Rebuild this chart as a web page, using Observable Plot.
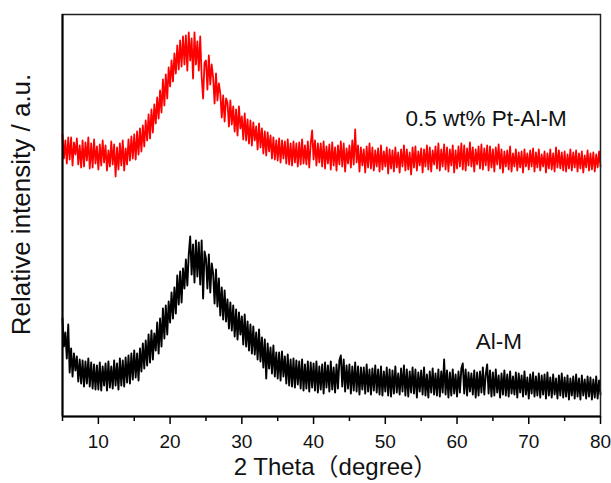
<!DOCTYPE html>
<html><head><meta charset="utf-8">
<script src="https://cdn.jsdelivr.net/npm/d3@7"></script>
<script src="https://cdn.jsdelivr.net/npm/@observablehq/plot@0.6"></script>
<style>body{margin:0;background:#fff}#chart{width:611px;height:483px}</style>
</head><body><div id="chart"></div>
<script>
// 2θ sampling grid of the diffractometer scan (5° to 80°, 0.2° step)
const thetaStart = 5, thetaStep = 0.2;

// Intensity (a.u., 0 = bottom of frame)
const ptAlM = [
282,258,276,253,279, 257,279,251,274,262, 278,252,271,249,276, 250,274,256,279,248, 273,249,277,253,270,
247,272,251,276,254, 271,246,266,250,275, 252,272,240,269,247, 273,251,276,246,268, 252,277,256,280,258,
282,257,285,262,288, 265,291,270,296,276, 302,278,307,284,312, 293,319,298,326,304, 337,311,342,318,349,
330,356,335,363,343, 371,347,376,350,380, 352,381,346,384,356, 378,338,384,352,375, 346,380,340,318,354,
356,327,361,332,352, 339,313,343,316,333, 323,299,321,295,318, 314,290,316,292,310, 285,307,281,310,288,
300,277,303,276,297, 273,296,271,294,276, 290,267,293,269,288, 263,285,261,284,265, 281,258,279,257,276,
256,278,254,276,258, 275,253,277,252,273, 251,275,254,273,250, 274,252,277,253,271, 252,275,249,273,286,
257,276,251,273,254, 273,250,275,248,270, 253,272,247,274,251, 269,246,271,252,275, 250,273,245,268,253,
271,249,276,252,287, 254,271,245,269,251, 267,244,270,249,273, 248,269,246,266,250, 268,245,271,247,265,
250,269,243,267,248, 266,245,269,249,264, 244,267,250,271,246, 267,247,264,242,269, 249,270,246,265,251,
268,244,267,250,271, 247,269,245,266,252, 270,248,273,246,267, 250,272,247,269,245, 267,251,271,244,266,
248,270,250,273,247, 271,246,268,251,274, 250,269,245,267,252, 270,248,272,247,268, 251,271,246,270,249,
267,245,269,252,272, 248,267,244,265,250, 266,247,270,245,263, 250,267,246,264,249, 265,244,267,250,263,
247,266,250,268,245, 264,249,267,246,262, 250,265,244,263,248, 267,247,263,245,269, 249,266,248,264,246,
265,245,262,248,267, 246,264,249,266,245, 263,248,265,244,261, 249,266,246,263,247, 264,245,262,249,265,
250
];
const alM = [
98,70,84,58,92, 44,68,40,63,46, 60,35,57,33,56, 30,55,33,58,30, 54,28,52,27,51,
27,54,26,50,31, 53,26,55,29,50, 28,56,31,53,27, 58,31,56,30,59, 34,61,33,63,37,
66,39,63,36,68, 45,73,48,76,51, 82,54,86,57,83, 66,94,63,98,70, 108,78,111,82,115,
94,124,98,129,103, 141,112,145,114,148, 128,157,131,162,180, 142,172,134,176,140, 174,132,176,118,165,
158,128,162,124,153, 143,113,147,110,138, 101,129,97,126,95, 117,88,114,86,111, 80,107,77,104,82,
100,72,102,70,95, 66,92,63,90,62, 84,57,87,55,79, 49,77,38,73,48, 69,43,71,40,64,
38,64,36,65,40, 60,33,62,31,57, 30,58,29,56,32, 55,28,57,26,52, 28,55,25,54,29,
53,26,55,24,50, 27,52,23,54,29, 51,25,55,27,49, 24,52,28,56,61, 30,57,25,51,28,
52,23,50,26,54, 25,50,22,49,27, 49,23,52,25,47, 22,48,26,51,24, 47,22,50,21,45,
25,49,21,47,20, 46,23,50,24,43, 22,48,25,51,21, 47,20,45,24,49, 23,47,19,44,25,
46,22,49,21,42, 19,45,24,48,22, 43,21,47,20,45, 24,57,22,46,19, 44,21,47,23,42,
20,45,24,48,53, 23,47,21,44,25, 43,22,46,19,44, 21,45,24,49,22, 42,52,23,46,20,
44,21,47,24,41, 19,43,22,46,21, 42,20,45,23,40, 22,44,19,43,24, 41,20,45,22,39,
18,42,23,44,20, 40,21,43,19,41, 22,42,18,44,21, 39,19,42,22,38, 18,41,21,43,19,
39,20,41,17,38, 21,40,18,42,20, 38,17,41,21,37, 18,40,20,39,17, 37,19,40,18,36,
22
];

const majorTicks = [10, 20, 30, 40, 50, 60, 70, 80];
const minorTicks = [5, 15, 25, 35, 45, 55, 65, 75];
const seriesNames = ["0.5 wt% Pt-Al-M", "Al-M"];
const seriesColors = ["#ff0000", "#000000"];
const labelTheta = [52.8, 62.6];
const labelIntensity = [298, 75];
const xTitle = "2 Theta（degree）";
const yTitle = "Relative intensity / a.u.";

const toRows = (arr) => arr.map((v, i) => ({theta: +(thetaStart + i * thetaStep).toFixed(1), intensity: v}));
const labels = seriesNames.map((t, i) => ({t, x: labelTheta[i], y: labelIntensity[i]}));

const chart = Plot.plot({
  width: 611, height: 483,
  marginLeft: 62, marginRight: 11, marginTop: 14, marginBottom: 67,
  x: {domain: [5, 80], axis: null},
  y: {domain: [0, 402], axis: null},
  style: {fontFamily: "'Liberation Sans', Arial, 'Noto Sans CJK SC', sans-serif", background: "#fff", color: "#111"},
  marks: [
    Plot.line(toRows(ptAlM), {x: "theta", y: "intensity", stroke: seriesColors[0], strokeWidth: 1.8}),
    Plot.line(toRows(alM), {x: "theta", y: "intensity", stroke: seriesColors[1], strokeWidth: 1.9}),
    Plot.frame({stroke: "#222", strokeWidth: 1.5}),
    Plot.ruleY([0], {stroke: "#000", strokeWidth: 2}),
    Plot.ruleX([5], {stroke: "#000", strokeWidth: 2}),
    Plot.axisX({ticks: majorTicks, anchor: "bottom", tickSize: 8, tickPadding: 10, fontSize: 19, label: null, tickFormat: d => String(d), strokeWidth: 1.5, stroke: "#000"}),
    Plot.axisX({ticks: minorTicks, anchor: "bottom", tickSize: 5, label: null, tickFormat: () => "", strokeWidth: 1.5, stroke: "#000"}),
    Plot.text(labels, {x: "x", y: "y", text: "t", textAnchor: "start", lineAnchor: "middle", fontSize: 22.5, fill: "#111"}),
    Plot.text([xTitle], {frameAnchor: "bottom", dx: 4, dy: 51, fontSize: 24, textAnchor: "middle", lineAnchor: "middle", fill: "#111"}),
    Plot.text([yTitle], {frameAnchor: "left", rotate: -90, dx: -41, dy: -11, fontSize: 26, textAnchor: "middle", lineAnchor: "middle", fill: "#111"})
  ]
});
document.getElementById("chart").append(chart);
</script>
</body></html>
